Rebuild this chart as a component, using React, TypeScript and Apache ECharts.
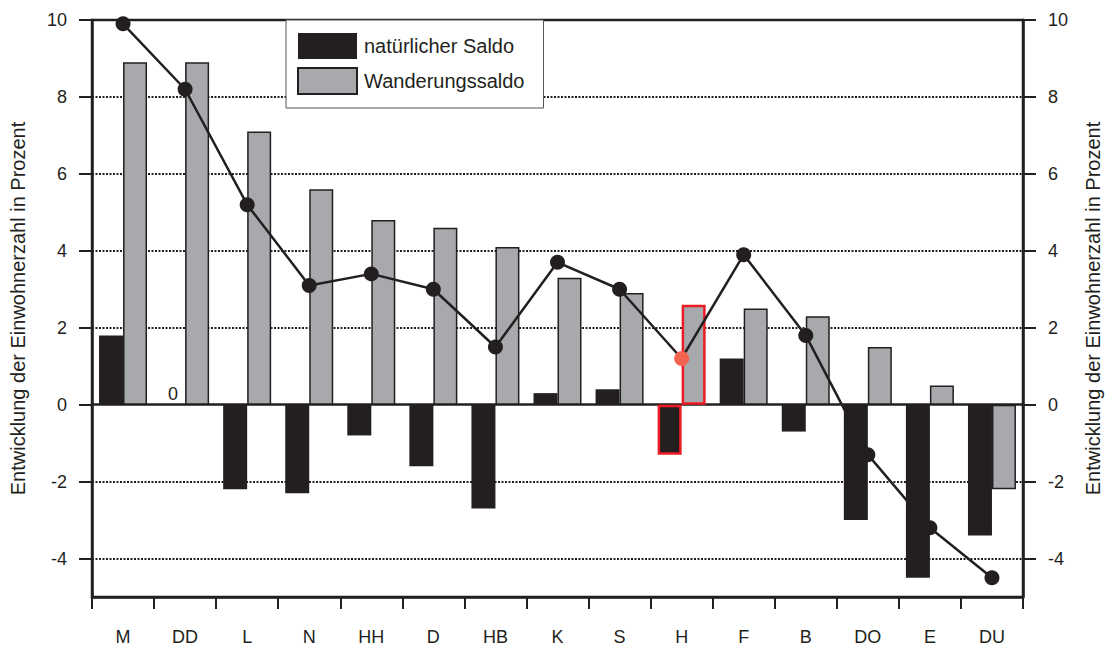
import React, { useEffect, useRef } from "react";
import * as echarts from "echarts";

const categories = ["M", "DD", "L", "N", "HH", "D", "HB", "K", "S", "H", "F", "B", "DO", "E", "DU"];
const natuerlicherSaldo = [1.8, 0, -2.2, -2.3, -0.8, -1.6, -2.7, 0.3, 0.4, -1.3, 1.2, -0.7, -3.0, -4.5, -3.4];
const wanderungssaldo = [8.9, 8.9, 7.1, 5.6, 4.8, 4.6, 4.1, 3.3, 2.9, 2.6, 2.5, 2.3, 1.5, 0.5, -2.2];
const gesamt = [9.9, 8.2, 5.2, 3.1, 3.4, 3.0, 1.5, 3.7, 3.0, 1.2, 3.9, 1.8, -1.3, -3.2, -4.5];
const yTicks = [-4, -2, 0, 2, 4, 6, 8, 10];
const gridValues = [-4, -2, 2, 4, 6, 8];
const highlightCategory = "H";
const zeroLabelCategory = "DD";
const axisName = "Entwicklung der Einwohnerzahl in Prozent";
const seriesNames = ["natürlicher Saldo", "Wanderungssaldo"];

const INK = "#231f20";
const GRAY = "#a7a9ac";
const RED = "#ed1c24";
const SALMON = "#f26451";
const FONT = "'Liberation Sans', Arial, sans-serif";

export default function App() {
  const ref = useRef<HTMLDivElement>(null);

  useEffect(() => {
    if (!ref.current) return;
    const chart = echarts.init(ref.current, undefined, { renderer: "svg" });

    const yAxisBase = (position: "left" | "right") => ({
      type: "value",
      position,
      min: -5,
      max: 10,
      axisLine: { show: true, lineStyle: { color: INK, width: 2.5 } },
      axisTick: {
        show: true,
        inside: false,
        length: 13,
        lineStyle: { color: INK, width: 2 },
        customValues: yTicks,
      },
      axisLabel: {
        customValues: yTicks,
        fontSize: 18,
        color: INK,
        fontFamily: FONT,
        margin: 25,
      },
      splitLine: { show: false },
      name: axisName,
      nameLocation: "middle",
      nameRotate: 90,
      nameGap: position === "left" ? 64 : 60,
      nameTextStyle: { fontSize: 20, color: INK, fontFamily: FONT },
    });

    const option = {
      animation: false,
      backgroundColor: "#ffffff",
      grid: {
        left: 92,
        right: 89,
        top: 20,
        bottom: 53,
        show: true,
        borderColor: INK,
        borderWidth: 2.5,
        backgroundColor: "transparent",
      },
      legend: {
        data: seriesNames,
        orient: "vertical",
        left: 286,
        top: 20,
        itemWidth: 59,
        itemHeight: 26,
        itemGap: 8,
        padding: [13, 19, 13, 11],
        backgroundColor: "#ffffff",
        borderColor: "#555555",
        borderWidth: 1,
        icon: "rect",
        textStyle: { fontSize: 20, color: INK, fontFamily: FONT, padding: [0, 0, 0, 2] },
        z: 10,
      },
      xAxis: {
        type: "category",
        data: categories,
        boundaryGap: true,
        axisLine: { show: true, onZero: false, lineStyle: { color: INK, width: 2.5 } },
        axisTick: { show: true, inside: false, length: 12, alignWithLabel: false, lineStyle: { color: INK, width: 2 } },
        axisLabel: { fontSize: 18, color: INK, fontFamily: FONT, margin: 31 },
        splitLine: { show: false },
      },
      yAxis: [yAxisBase("left"), yAxisBase("right")],
      series: [
        {
          name: seriesNames[0],
          type: "bar",
          barWidth: 24,
          barGap: "0%",
          z: 3,
          itemStyle: { color: INK },
          data: natuerlicherSaldo.map((v, i) => {
            const item: any = { value: v };
            if (categories[i] === highlightCategory) {
              item.itemStyle = { borderColor: RED, borderWidth: 2.5 };
            }
            if (categories[i] === zeroLabelCategory) {
              item.label = {
                show: true,
                position: "top",
                formatter: "0",
                fontSize: 18,
                color: INK,
                fontFamily: FONT,
                distance: 2,
              };
            }
            return item;
          }),
          markLine: {
            silent: true,
            symbol: "none",
            z: 1,
            label: { show: false },
            data: [
              ...gridValues.map((v) => ({
                yAxis: v,
                lineStyle: { color: INK, width: 2, type: [2, 1.5] },
              })),
              { yAxis: 0, lineStyle: { color: INK, width: 2.5, type: "solid" } },
            ],
          },
        },
        {
          name: seriesNames[1],
          type: "bar",
          barWidth: 24,
          barGap: "0%",
          z: 3,
          itemStyle: { color: GRAY, borderColor: INK, borderWidth: 1.5 },
          data: wanderungssaldo.map((v, i) => {
            const item: any = { value: v };
            if (categories[i] === highlightCategory) {
              item.itemStyle = { color: GRAY, borderColor: RED, borderWidth: 2.5 };
            }
            return item;
          }),
        },
        {
          name: "Gesamt",
          type: "line",
          z: 5,
          symbol: "circle",
          symbolSize: 15,
          lineStyle: { color: INK, width: 2.5 },
          itemStyle: { color: INK },
          data: gesamt.map((v, i) => {
            const item: any = { value: v };
            if (categories[i] === highlightCategory) {
              item.itemStyle = { color: SALMON };
            }
            return item;
          }),
        },
      ],
    };

    chart.setOption(option as any);
    return () => {
      chart.dispose();
    };
  }, []);

  return (
    <div
      ref={ref}
      style={{ position: "fixed", left: 0, top: 0, width: 1112, height: 650, background: "#fff" }}
    />
  );
}
